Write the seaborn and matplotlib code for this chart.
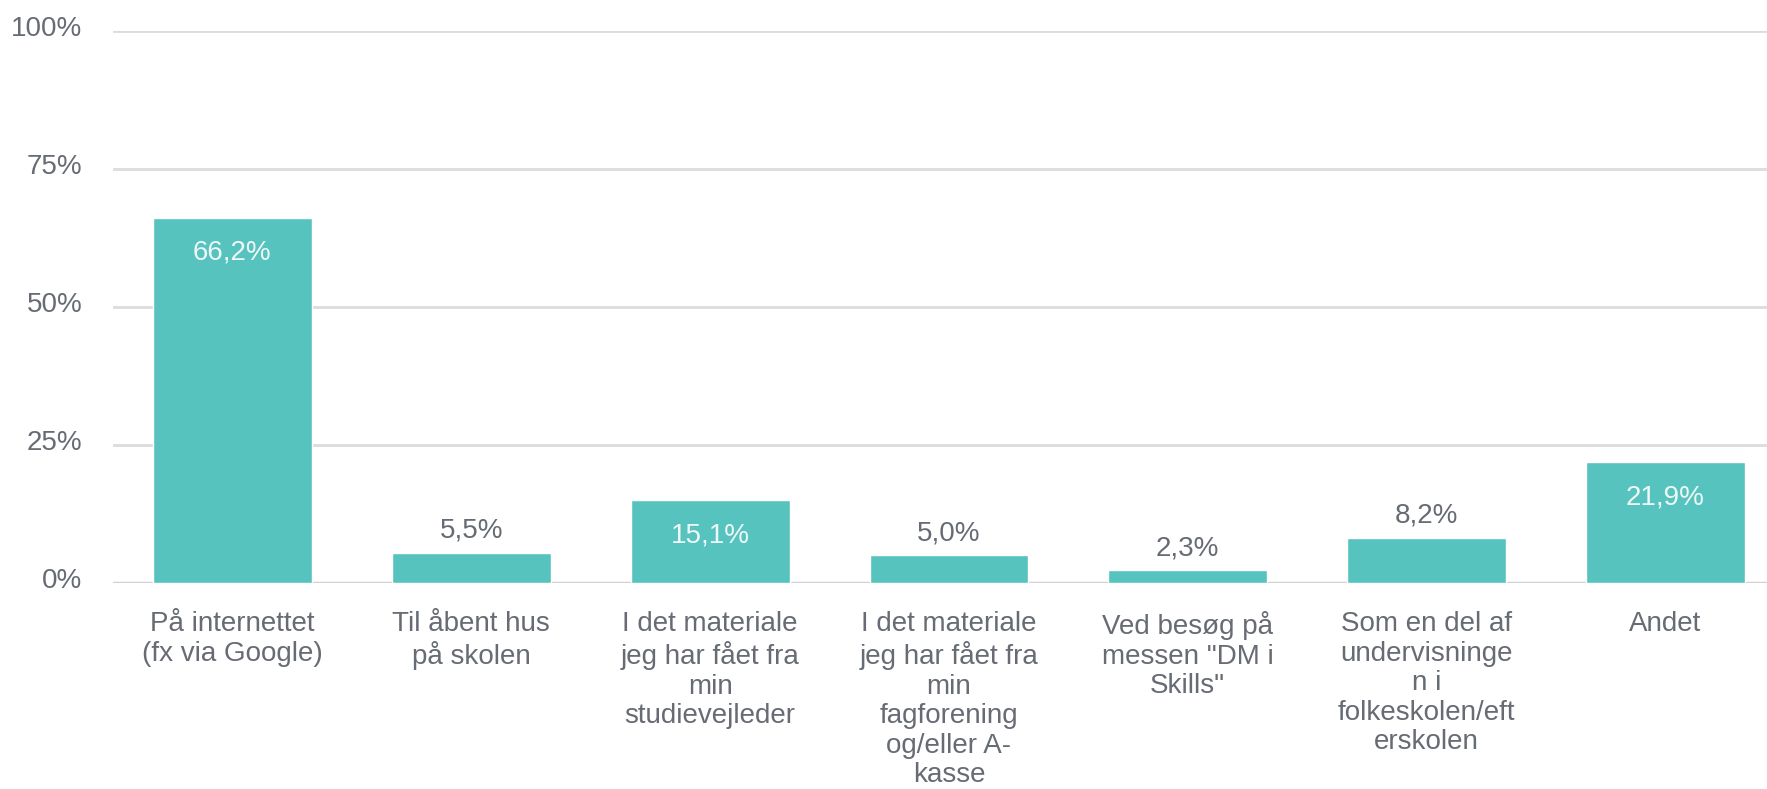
import matplotlib
matplotlib.use("Agg")
import matplotlib.pyplot as plt
import matplotlib.transforms as mtransforms
import seaborn as sns
import pandas as pd

categories = [
    "På internettet\n(fx via Google)",
    "Til åbent hus\npå skolen",
    "I det materiale\njeg har fået fra\nmin\nstudievejleder",
    "I det materiale\njeg har fået fra\nmin\nfagforening\nog/eller A-\nkasse",
    "Ved besøg på\nmessen \"DM i\nSkills\"",
    "Som en del af\nundervisninge\nn i\nfolkeskolen/eft\nerskolen",
    "Andet",
]
values = [66.2, 5.5, 15.1, 5.0, 2.3, 8.2, 21.9]
value_labels = ["66,2%", "5,5%", "15,1%", "5,0%", "2,3%", "8,2%", "21,9%"]
yticks = [0, 25, 50, 75, 100]
ytick_labels = ["0%", "25%", "50%", "75%", "100%"]

BAR = "#57c3bf"
TEXT = "#676b73"
GRID = "#dcdcdc"

sns.set_theme(style="white")
plt.rcParams["font.family"] = ["Liberation Sans", "DejaVu Sans"]

df = pd.DataFrame({"cat": categories, "val": values})
fig = plt.figure(figsize=(17.67, 7.89), dpi=100)
ax = fig.add_axes([113 / 1767, (789 - 583) / 789, 1 - 113 / 1767, (583 - 31) / 789])

sns.barplot(data=df, x="cat", y="val", color=BAR, saturation=1, width=0.665, ax=ax, zorder=3)

ax.set_ylim(0, 100)
ax.set_xlim(-0.5, 6.425)
ax.set_yticks(yticks)
ax.set_yticklabels(ytick_labels)
for y in yticks:
    ax.axhline(y, color=GRID if y else "#d2d2d2", lw=2 if y else 2.5, zorder=1)
for s in ax.spines.values():
    s.set_visible(False)
ax.set_xlabel("")
ax.set_ylabel("")
ax.tick_params(axis="y", length=0, pad=22, labelsize=20, labelcolor=TEXT)
ax.tick_params(axis="x", length=0, pad=20.5, labelsize=20, labelcolor=TEXT)
shift = mtransforms.ScaledTranslation(0, 5.5 / 100, fig.dpi_scale_trans)
for t in ax.get_yticklabels():
    t.set_transform(t.get_transform() + shift)
for t in ax.get_xticklabels():
    t.set_linespacing(1.17)
    t.set_va("top")

for patch, lbl, v in zip(ax.patches, value_labels, values):
    cx = patch.get_x() + patch.get_width() / 2
    h = patch.get_height()
    if v > 10:
        ax.annotate(lbl, (cx, h), xytext=(0, -25.5), textcoords="offset points",
                    ha="center", va="center", fontsize=20, color="#eef8f7", zorder=4)
    else:
        ax.annotate(lbl, (cx, h), xytext=(0, 16), textcoords="offset points",
                    ha="center", va="center", fontsize=20, color=TEXT, zorder=4)

fig.savefig("out.png", dpi=100, facecolor="white")
